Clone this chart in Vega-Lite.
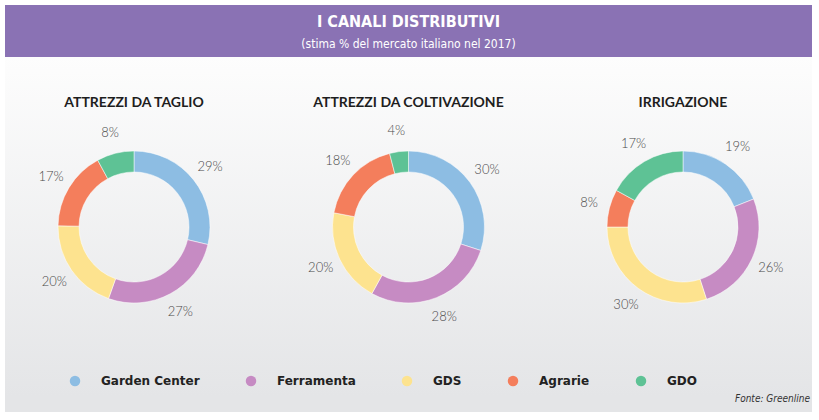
{
  "$schema": "https://vega.github.io/schema/vega-lite/v6.json",
  "padding": {"left": 5, "top": 5, "right": 7, "bottom": 8},
  "background": "#ffffff",
  "spacing": 0,
  "bounds": "flush",
  "config": {"view": {"stroke": null}, "font": "Lato"},
  "datasets": {
    "shares": [
      {"chart": "ATTREZZI DA TAGLIO", "canale": "Garden Center", "order": 1, "value": 0.29},
      {"chart": "ATTREZZI DA TAGLIO", "canale": "Ferramenta", "order": 2, "value": 0.27},
      {"chart": "ATTREZZI DA TAGLIO", "canale": "GDS", "order": 3, "value": 0.20},
      {"chart": "ATTREZZI DA TAGLIO", "canale": "Agrarie", "order": 4, "value": 0.17},
      {"chart": "ATTREZZI DA TAGLIO", "canale": "GDO", "order": 5, "value": 0.08},
      {"chart": "ATTREZZI DA COLTIVAZIONE", "canale": "Garden Center", "order": 1, "value": 0.30},
      {"chart": "ATTREZZI DA COLTIVAZIONE", "canale": "Ferramenta", "order": 2, "value": 0.28},
      {"chart": "ATTREZZI DA COLTIVAZIONE", "canale": "GDS", "order": 3, "value": 0.20},
      {"chart": "ATTREZZI DA COLTIVAZIONE", "canale": "Agrarie", "order": 4, "value": 0.18},
      {"chart": "ATTREZZI DA COLTIVAZIONE", "canale": "GDO", "order": 5, "value": 0.04},
      {"chart": "IRRIGAZIONE", "canale": "Garden Center", "order": 1, "value": 0.19},
      {"chart": "IRRIGAZIONE", "canale": "Ferramenta", "order": 2, "value": 0.26},
      {"chart": "IRRIGAZIONE", "canale": "GDS", "order": 3, "value": 0.30},
      {"chart": "IRRIGAZIONE", "canale": "Agrarie", "order": 4, "value": 0.08},
      {"chart": "IRRIGAZIONE", "canale": "GDO", "order": 5, "value": 0.17}
    ],
    "charts": [
      {"chart": "ATTREZZI DA TAGLIO"},
      {"chart": "ATTREZZI DA COLTIVAZIONE"},
      {"chart": "IRRIGAZIONE"}
    ]
  },
  "vconcat": [
    {
      "width": 807,
      "height": 52,
      "view": {"fill": "#8a72b4", "stroke": null},
      "data": {"values": [{"title": "I CANALI DISTRIBUTIVI", "subtitle": "(stima % del mercato italiano nel 2017)"}]},
      "layer": [
        {
          "mark": {"type": "text", "font": "'DejaVu Sans Condensed', Roboto", "fontWeight": "bold", "fontSize": 16, "color": "#ffffff", "dy": -9, "baseline": "middle"},
          "encoding": {"text": {"field": "title"}}
        },
        {
          "mark": {"type": "text", "font": "'DejaVu Sans Condensed', Roboto", "fontSize": 12, "color": "#ffffff", "dy": 13, "baseline": "middle"},
          "encoding": {"text": {"field": "subtitle"}}
        }
      ]
    },
    {
      "width": 807,
      "height": 340,
      "layer": [
        {
          "data": {"values": [{}]},
          "mark": {
            "type": "rect",
            "fill": {"gradient": "linear", "x1": 0, "y1": 0, "x2": 0, "y2": 1,
              "stops": [{"offset": 0, "color": "#fdfdfd"}, {"offset": 1, "color": "#e4e5e7"}]}
          },
          "encoding": {}
        },
        {
          "data": {"name": "charts"},
          "mark": {"type": "text", "fontWeight": "bold", "fontSize": 14, "color": "#1e1e1e", "dy": -124, "baseline": "middle"},
          "encoding": {
            "x": {"field": "chart", "type": "nominal", "axis": null,
              "scale": {"type": "point", "padding": 0.47, "domain": ["ATTREZZI DA TAGLIO", "ATTREZZI DA COLTIVAZIONE", "IRRIGAZIONE"]}},
            "text": {"field": "chart"}
          }
        },
        {
          "data": {"name": "shares"},
          "transform": [{"filter": "datum.chart === 'ATTREZZI DA TAGLIO'"}],
          "encoding": {
            "x": {"field": "chart", "type": "nominal", "axis": null,
              "scale": {"type": "point", "padding": 0.47, "domain": ["ATTREZZI DA TAGLIO", "ATTREZZI DA COLTIVAZIONE", "IRRIGAZIONE"]}},
            "theta": {"field": "value", "type": "quantitative", "stack": "normalize"},
            "order": {"field": "order", "type": "quantitative"}
          },
          "layer": [
            {
              "mark": {"type": "arc", "innerRadius": 55, "outerRadius": 76, "stroke": "#ffffff", "strokeWidth": 0.5},
              "encoding": {
                "color": {"field": "canale", "type": "nominal",
                  "scale": {"domain": ["Garden Center", "Ferramenta", "GDS", "Agrarie", "GDO"], "range": ["#8dbde3", "#c68bc3", "#fde38f", "#f47e5c", "#5ec295"]},
                  "legend": {"orient": "none", "legendX": 64, "legendY": 370, "direction": "horizontal", "title": null,
                    "symbolType": "circle", "symbolSize": 110, "symbolStrokeWidth": 0, "symbolOpacity": 1,
                    "labelFont": "DejaVu Sans", "labelFontWeight": "bold", "labelFontSize": 12, "labelColor": "#222222",
                    "columnPadding": 45, "labelOffset": 20}
                }
              }
            },
            {
              "mark": {"type": "text", "radius": 97, "fontSize": 13, "fontWeight": 300, "color": "#4a4a4a"},
              "encoding": {"detail": {"field": "canale"}, "text": {"field": "value", "type": "quantitative", "format": ".0%"}}
            }
          ]
        },
        {
          "data": {"name": "shares"},
          "transform": [{"filter": "datum.chart === 'ATTREZZI DA COLTIVAZIONE'"}],
          "encoding": {
            "x": {"field": "chart", "type": "nominal", "axis": null,
              "scale": {"type": "point", "padding": 0.47, "domain": ["ATTREZZI DA TAGLIO", "ATTREZZI DA COLTIVAZIONE", "IRRIGAZIONE"]}},
            "theta": {"field": "value", "type": "quantitative", "stack": "normalize"},
            "order": {"field": "order", "type": "quantitative"}
          },
          "layer": [
            {
              "mark": {"type": "arc", "innerRadius": 55, "outerRadius": 76, "stroke": "#ffffff", "strokeWidth": 0.5},
              "encoding": {"color": {"field": "canale", "type": "nominal"}}
            },
            {
              "mark": {"type": "text", "radius": 97, "fontSize": 13, "fontWeight": 300, "color": "#4a4a4a"},
              "encoding": {"detail": {"field": "canale"}, "text": {"field": "value", "type": "quantitative", "format": ".0%"}}
            }
          ]
        },
        {
          "data": {"name": "shares"},
          "transform": [{"filter": "datum.chart === 'IRRIGAZIONE'"}],
          "encoding": {
            "x": {"field": "chart", "type": "nominal", "axis": null,
              "scale": {"type": "point", "padding": 0.47, "domain": ["ATTREZZI DA TAGLIO", "ATTREZZI DA COLTIVAZIONE", "IRRIGAZIONE"]}},
            "theta": {"field": "value", "type": "quantitative", "stack": "normalize"},
            "order": {"field": "order", "type": "quantitative"}
          },
          "layer": [
            {
              "mark": {"type": "arc", "innerRadius": 55, "outerRadius": 76, "stroke": "#ffffff", "strokeWidth": 0.5},
              "encoding": {"color": {"field": "canale", "type": "nominal"}}
            },
            {
              "mark": {"type": "text", "radius": 97, "fontSize": 13, "fontWeight": 300, "color": "#4a4a4a"},
              "encoding": {"detail": {"field": "canale"}, "text": {"field": "value", "type": "quantitative", "format": ".0%"}}
            }
          ]
        }
      ]
    },
    {
      "width": 807,
      "height": 15,
      "view": {"fill": "#e4e5e7", "stroke": null},
      "data": {"values": [{"src": "Fonte: Greenline"}]},
      "mark": {"type": "text", "font": "'DejaVu Sans Condensed', Roboto", "fontStyle": "italic", "fontSize": 10, "color": "#333333", "align": "right", "dx": -2, "dy": -6, "baseline": "middle"},
      "encoding": {"text": {"field": "src"}, "x": {"value": "width"}}
    }
  ]
}
